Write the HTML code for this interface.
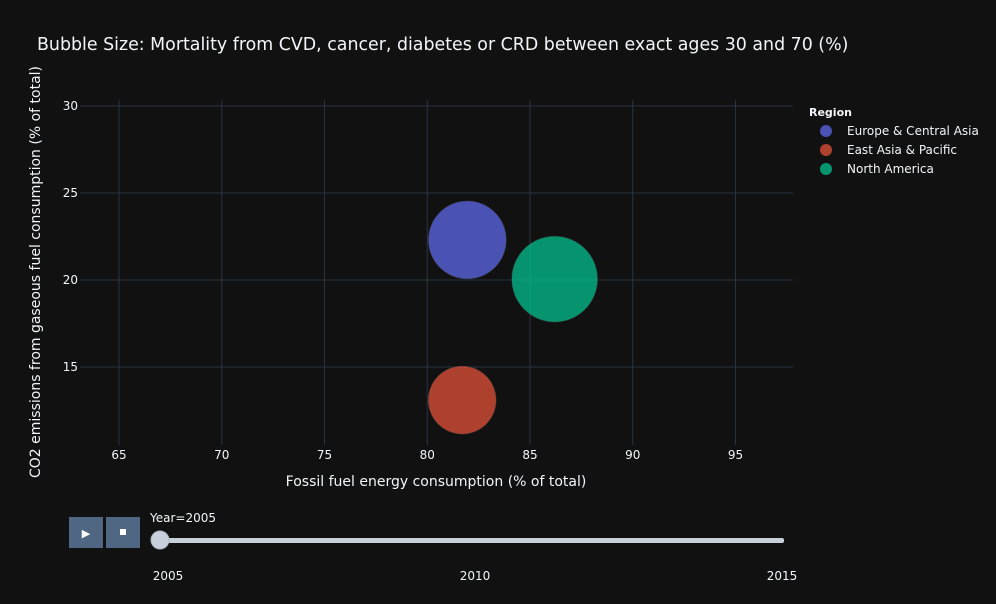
<!DOCTYPE html>
<html><head><meta charset="utf-8"><style>
body{margin:0;background:#111111;width:996px;height:600px;overflow:hidden;font-family:"DejaVu Sans",sans-serif}
svg text{font-family:"DejaVu Sans",sans-serif}
</style></head><body>
<svg id="chart" width="996" height="600">
<rect width="996" height="600" fill="#111111"/>
<text x="37" y="50" fill="#f2f5fa" font-size="17.4">Bubble Size: Mortality from CVD, cancer, diabetes or CRD between exact ages 30 and 70 (%)</text>
<g id="grid"></g>
<g id="bubbles"></g>
<text x="436" y="486" fill="#f2f5fa" font-size="14" text-anchor="middle">Fossil fuel energy consumption (% of total)</text>
<text transform="translate(40,272) rotate(-90)" fill="#f2f5fa" font-size="14" text-anchor="middle">CO2 emissions from gaseous fuel consumption (% of total)</text>
<text x="809" y="116" fill="#f2f5fa" font-size="11" font-weight="bold">Region</text>
<g id="legend"></g>
<g><rect x="69" y="517" width="34" height="31" fill="#506784"/><text x="86" y="537" fill="#fff" font-size="11" text-anchor="middle">▶</text></g>
<g><rect x="106" y="517" width="34" height="31" fill="#506784"/><rect x="120" y="529" width="6" height="6" fill="#fff"/></g>
<text x="150" y="522" fill="#f2f5fa" font-size="12">Year=2005</text>
<rect x="160" y="538" width="624" height="5" rx="2" fill="#c8d0dc"/>
<circle cx="160" cy="540" r="9" fill="#c8d0dc" stroke="#aab3c0"/>
<g id="sliderticks"></g>
</svg>
<script>
const regions=["Europe & Central Asia","East Asia & Pacific","North America"];
const fossil=[81.95,81.7,86.2];
const co2=[22.3,13.1,20.05];
const mortality=[18.8,14.3,22.8];
const colors=["#636efa","#EF553B","#00cc96"];
const xTicks=[65,70,75,80,85,90,95];
const yTicks=[15,20,25,30];
const years=[2005,2010,2015];
const X0=80,X1=793,Y0=100,Y1=445;
const xmin=63.1,xmax=97.8,ymin=10.52,ymax=30.34;
const sx=v=>X0+(v-xmin)/(xmax-xmin)*(X1-X0);
const sy=v=>Y1-(v-ymin)/(ymax-ymin)*(Y1-Y0);
const NS="http://www.w3.org/2000/svg";
function mk(t,a,p){const e=document.createElementNS(NS,t);for(const k in a)e.setAttribute(k,a[k]);p.appendChild(e);return e;}
const g=document.getElementById('grid');
xTicks.forEach(v=>{
 const l=mk('line',{x1:sx(v),x2:sx(v),y1:Y0,y2:Y1,stroke:'#283442'},g);
 
 
 const t=mk('text',{x:sx(v),y:Y1+14,fill:'#f2f5fa','font-size':12,'text-anchor':'middle'},g);t.textContent=v;
 
 
});
yTicks.forEach(v=>{
 const l=mk('line',{x1:X0,x2:X1,y1:sy(v),y2:sy(v),stroke:'#283442'},g);
 
 
 const t=mk('text',{x:X0-2,y:sy(v)+4,fill:'#f2f5fa','font-size':12,'text-anchor':'end'},g);t.textContent=v;
 
 
});
const b=document.getElementById('bubbles');
regions.forEach((r,i)=>{
 const c=mk('circle',{cx:sx(fossil[i]),cy:sy(co2[i]),r:Math.sqrt(mortality[i])*9,fill:colors[i],'fill-opacity':0.7,stroke:'#333',"stroke-width":0.5},b);
 
 
});
const lg=document.getElementById('legend');
regions.forEach((r,i)=>{
 const y=131+i*19;
 const c=mk('circle',{cx:826,cy:y,r:6,fill:colors[i],'fill-opacity':0.7},lg);
 
 
 const t=mk('text',{x:847,y:y+4,fill:'#f2f5fa','font-size':12},lg);t.textContent=r;
 
 
});
const st=document.getElementById('sliderticks');
years.forEach((yv,i)=>{
 const x=168+(yv-years[0])/(years[years.length-1]-years[0])*(782-168);
 const t=mk('text',{x:x,y:580,fill:'#f2f5fa','font-size':12,'text-anchor':'middle'},st);t.textContent=yv;
 
 
});
</script>
</body></html>
